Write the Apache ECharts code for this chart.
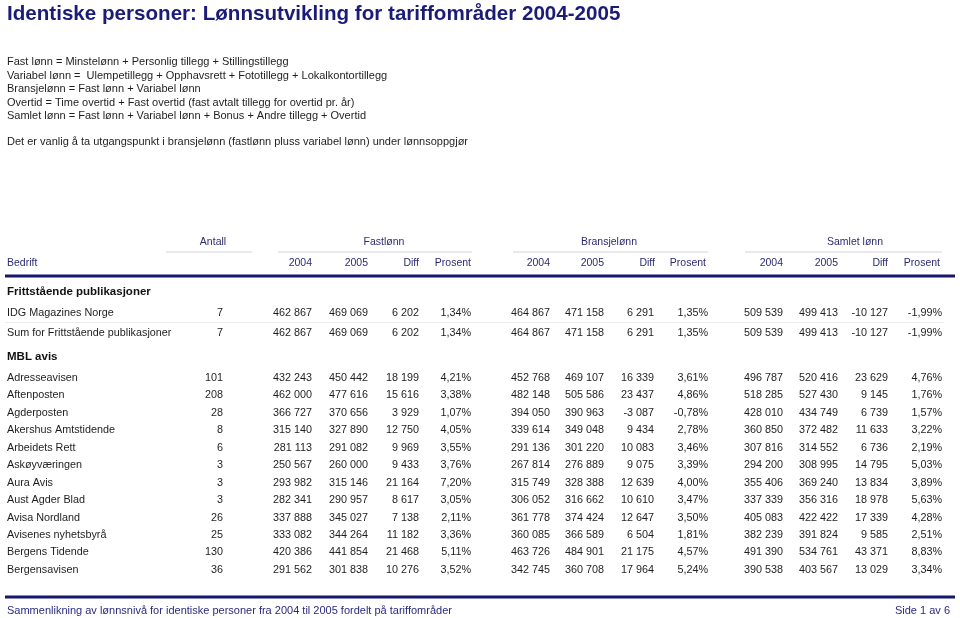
<!DOCTYPE html>
<html><head><meta charset="utf-8">
<script src="https://cdn.jsdelivr.net/npm/echarts@6/dist/echarts.min.js"></script>
<style>html,body{margin:0;padding:0;background:#fff}#c{width:960px;height:618px}</style>
</head><body><div id="c"></div>
<script>
// ---------- DATA ----------
const title = 'Identiske personer: Lønnsutvikling for tariffområder 2004-2005';
const definitions = [
  'Fast lønn = Minstelønn + Personlig tillegg + Stillingstillegg',
  'Variabel lønn =  Ulempetillegg + Opphavsrett + Fototillegg + Lokalkontortillegg',
  'Bransjelønn = Fast lønn + Variabel lønn',
  'Overtid = Time overtid + Fast overtid (fast avtalt tillegg for overtid pr. år)',
  'Samlet lønn = Fast lønn + Variabel lønn + Bonus + Andre tillegg + Overtid'
];
const note = 'Det er vanlig å ta utgangspunkt i bransjelønn (fastlønn pluss variabel lønn) under lønnsoppgjør';
const groupHeaders = ['Antall', 'Fastlønn', 'Bransjelønn', 'Samlet lønn'];
const subHeaders = ['Bedrift', '2004', '2005', 'Diff', 'Prosent', '2004', '2005', 'Diff', 'Prosent', '2004', '2005', 'Diff', 'Prosent'];
const footerLeft = 'Sammenlikning av lønnsnivå for identiske personer fra 2004 til 2005 fordelt på tariffområder';
const footerRight = 'Side 1 av 6';

const sections = ['Frittstående publikasjoner', 'MBL avis'];
const companies = ['IDG Magazines Norge', 'Sum for Frittstående publikasjoner', 'Adresseavisen', 'Aftenposten', 'Agderposten',
  'Akershus Amtstidende', 'Arbeidets Rett', 'Askøyværingen', 'Aura Avis', 'Aust Agder Blad', 'Avisa Nordland',
  'Avisenes nyhetsbyrå', 'Bergens Tidende', 'Bergensavisen'];
const companySection = [0, 0, 1, 1, 1, 1, 1, 1, 1, 1, 1, 1, 1, 1];
const antall = [7, 7, 101, 208, 28, 8, 6, 3, 3, 3, 26, 25, 130, 36];
const fast2004 = [462867, 462867, 432243, 462000, 366727, 315140, 281113, 250567, 293982, 282341, 337888, 333082, 420386, 291562];
const fast2005 = [469069, 469069, 450442, 477616, 370656, 327890, 291082, 260000, 315146, 290957, 345027, 344264, 441854, 301838];
const fastDiff = [6202, 6202, 18199, 15616, 3929, 12750, 9969, 9433, 21164, 8617, 7138, 11182, 21468, 10276];
const fastPct = [1.34, 1.34, 4.21, 3.38, 1.07, 4.05, 3.55, 3.76, 7.20, 3.05, 2.11, 3.36, 5.11, 3.52];
const brans2004 = [464867, 464867, 452768, 482148, 394050, 339614, 291136, 267814, 315749, 306052, 361778, 360085, 463726, 342745];
const brans2005 = [471158, 471158, 469107, 505586, 390963, 349048, 301220, 276889, 328388, 316662, 374424, 366589, 484901, 360708];
const bransDiff = [6291, 6291, 16339, 23437, -3087, 9434, 10083, 9075, 12639, 10610, 12647, 6504, 21175, 17964];
const bransPct = [1.35, 1.35, 3.61, 4.86, -0.78, 2.78, 3.46, 3.39, 4.00, 3.47, 3.50, 1.81, 4.57, 5.24];
const samlet2004 = [509539, 509539, 496787, 518285, 428010, 360850, 307816, 294200, 355406, 337339, 405083, 382239, 491390, 390538];
const samlet2005 = [499413, 499413, 520416, 527430, 434749, 372482, 314552, 308995, 369240, 356316, 422422, 391824, 534761, 403567];
const samletDiff = [-10127, -10127, 23629, 9145, 6739, 11633, 6736, 14795, 13834, 18978, 17339, 9585, 43371, 13029];
const samletPct = [-1.99, -1.99, 4.76, 1.76, 1.57, 3.22, 2.19, 5.03, 3.89, 5.63, 4.28, 2.51, 8.83, 3.34];

// ---------- LAYOUT ----------
const FONT = '"Liberation Sans", Arial, sans-serif';
const NAVY = '#1b1b78';
const HEAD = '#2b2b72';
const TEXT = '#1e1e1e';
const BODY = 10.8;
const colRight = [null, 223, 312, 368, 419, 471, 550, 604, 654, 708, 783, 838, 888, 942];
const subRight = [null, 312, 368, 419, 471, 550, 604, 655, 706, 783, 838, 888, 940];
const groupCenter = [213, 384, 609, 855];
const groupLine = [[166, 252], [278, 472], [513, 708], [745, 942]];

function fmtInt(v) {
  const s = Math.abs(v).toString().replace(/\B(?=(\d{3})+(?!\d))/g, ' ');
  return (v < 0 ? '-' : '') + s;
}
function fmtPct(v) { return v.toFixed(2).replace('.', ',') + '%'; }

const cells = [];
const lines = [];
function cell(x, y, text, align, size, weight, color) { cells.push({x, y, text, align, size, weight, color}); }

cell(7, 14, title, 'left', 20.6, 'bold', NAVY);
definitions.forEach((d, i) => cell(7, 62.3 + i * 13.5, d, 'left', 11, 'normal', TEXT));
cell(7, 142.3, note, 'left', 11, 'normal', TEXT);

groupHeaders.forEach((g, i) => {
  cell(groupCenter[i], 242, g, 'center', 10.5, 'normal', HEAD);
  lines.push({x1: groupLine[i][0], y1: 252, x2: groupLine[i][1], y2: 252, w: 1, color: '#d4d4dc'});
});
subHeaders.forEach((h, i) => {
  if (i === 0) cell(7, 263.5, h, 'left', 10.5, 'normal', HEAD);
  else cell(subRight[i], 263.5, h, 'right', 10.5, 'normal', HEAD);
});
lines.push({x1: 5, y1: 276, x2: 955, y2: 276, w: 3, color: '#17176e'});

let y = 292;
let lastSection = -1;
companies.forEach((name, r) => {
  const s = companySection[r];
  if (s !== lastSection) {
    if (lastSection >= 0) y += 23.5;
    cell(7, y, sections[s], 'left', 11.5, 'bold', '#111');
    y += 21.5;
    lastSection = s;
  } else if (r > 0) {
    y += (r === 1) ? 19.5 : 17.45;
  }
  const vals = [antall[r], fast2004[r], fast2005[r], fastDiff[r], fastPct[r], brans2004[r], brans2005[r], bransDiff[r], bransPct[r],
    samlet2004[r], samlet2005[r], samletDiff[r], samletPct[r]];
  cell(7, y, name, 'left', BODY, 'normal', TEXT);
  vals.forEach((v, c) => {
    const txt = (c === 4 || c === 8 || c === 12) ? fmtPct(v) : fmtInt(v);
    cell(colRight[c + 1], y, txt, 'right', BODY, 'normal', TEXT);
  });
  if (r === 0) lines.push({x1: 5, y1: y + 9, x2: 943, y2: y + 9, w: 1, color: '#ececec'});
});

lines.push({x1: 5, y1: 597, x2: 955, y2: 597, w: 3, color: '#17176e'});
cell(7, 611, footerLeft, 'left', 11, 'normal', '#2a2a80');
cell(950, 611, footerRight, 'right', 11, 'normal', '#2a2a80');

// ---------- CHART ----------
const chart = echarts.init(document.getElementById('c'), null, {renderer: 'canvas'});
chart.setOption({
  animation: false,
  backgroundColor: '#fff',
  grid: {left: 0, right: 0, top: 0, bottom: 0},
  xAxis: {type: 'value', min: 0, max: 960, show: false},
  yAxis: {type: 'value', min: 0, max: 618, inverse: true, show: false},
  series: [
    {
      type: 'custom',
      coordinateSystem: 'cartesian2d',
      data: lines.map(l => [l.x1, l.y1, l.x2, l.y2]),
      renderItem: function (params, api) {
        const l = lines[params.dataIndex];
        const p1 = api.coord([api.value(0), api.value(1)]);
        const p2 = api.coord([api.value(2), api.value(3)]);
        return {type: 'line', shape: {x1: p1[0], y1: p1[1], x2: p2[0], y2: p2[1]},
          style: {stroke: l.color, lineWidth: l.w}};
      },
      silent: true
    },
    {
      type: 'custom',
      coordinateSystem: 'cartesian2d',
      data: cells.map(c => [c.x, c.y]),
      renderItem: function (params, api) {
        const c = cells[params.dataIndex];
        const p = api.coord([api.value(0), api.value(1)]);
        return {type: 'text', x: p[0], y: p[1],
          style: {text: c.text, textAlign: c.align, textVerticalAlign: 'middle',
            font: c.weight + ' ' + c.size + 'px ' + FONT, fill: c.color}};
      },
      silent: true
    }
  ]
});
</script></body></html>
